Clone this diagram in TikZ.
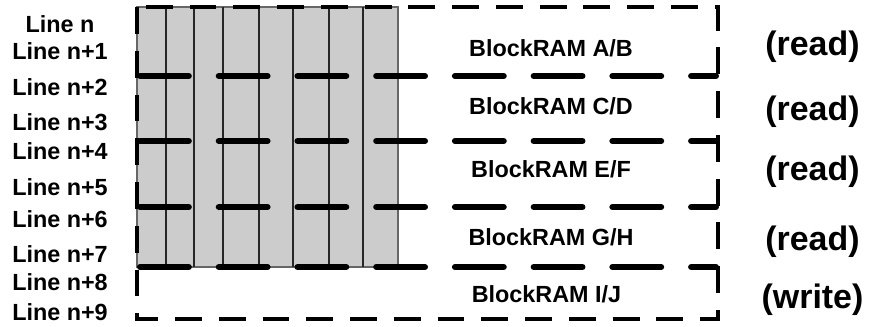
\documentclass[tikz,border=0pt]{standalone}
\usepackage{fontspec}
\setmainfont{Liberation Sans}
\usepackage{xcolor}
\usepackage{tikz}
\usetikzlibrary{positioning}

\tikzset{
  linelabel/.style={font=\fontsize{13.3}{15}\selectfont\bfseries, anchor=base, inner sep=0pt},
  ramlabel/.style={font=\fontsize{13.3}{15}\selectfont\bfseries, anchor=base, inner sep=0pt},
  modelabel/.style={font=\fontsize{19.3}{21}\selectfont\bfseries, anchor=base, inner sep=0pt},
  outerbox/.style={line width=2pt, dash pattern=on 15.3pt off 9.6pt},
  bankline/.style={line width=3.4pt, line cap=round, dash pattern=on 27.8pt off 17pt},
  column/.style={black!85, line width=1.1pt},
}

\begin{document}
\begin{tikzpicture}

\useasboundingbox (0,0) rectangle (17.5,6.52);

% Закрашенная область
\fill[black!20] (2.74,6.38) rectangle (7.96,1.18);
\draw[black!60, line width=0.6pt] (2.74,6.38) rectangle (7.96,1.18);

% Столбцы
\foreach \x in {3.32,3.88,4.46,5.18,5.86,6.58,7.26} {
    \draw[column] (\x,6.38) -- (\x,1.18);
}

% Внешняя рамка
\draw[outerbox] (2.74,6.38) rectangle (14.36,0.14);

% Границы блоков
\foreach \y in {5.00,3.70,2.38,1.18} {
    \draw[bankline] (2.80,\y) -- (14.32,\y);
}

% Строки слева
\node[linelabel] (line0) at (1.2,5.86) {Line n};
\foreach \k/\y in {1/5.32, 2/4.62, 3/3.92, 4/3.32, 5/2.62, 6/1.98, 7/1.28, 8/0.72, 9/0.12} {
    \node[linelabel] (line\k) at (1.2,\y) {Line n+\k};
}

% Подписи блоков
\foreach \a/\b/\x/\y in {A/B/11.02/5.38, C/D/11.02/4.22, E/F/11.02/2.98, G/H/11.02/1.62, I/J/10.93/0.48} {
    \node[ramlabel] (ram\a) at (\x,\y) {BlockRAM \a/\b};
}

% Режим
\foreach \y [count=\n] in {5.40,4.10,2.92,1.52} {
    \node[modelabel] (read\n) at (16.25,\y) {(read)};
}
\node[modelabel] (write) at (16.25,0.36) {(write)};

\end{tikzpicture}
\end{document}
